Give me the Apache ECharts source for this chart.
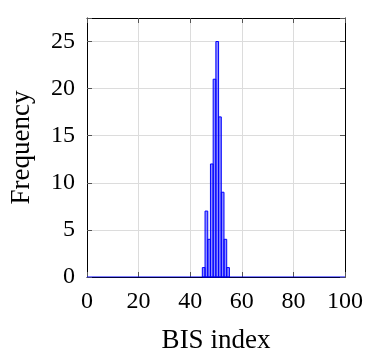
<!DOCTYPE html>
<html>
<head>
<meta charset="utf-8">
<script src="https://cdn.jsdelivr.net/npm/echarts@6/dist/echarts.min.js"></script>
<style>
  html, body { margin: 0; padding: 0; background: #fff; }
  #chart { width: 367px; height: 353px; }
</style>
</head>
<body>
<div id="chart"></div>
<script>
// histogram bins (BIS index)
const binStart = [44.7, 45.75, 46.8, 47.85, 48.9, 49.95, 51.0, 52.05, 53.1, 54.15];
const binEnd   = [45.75, 46.8, 47.85, 48.9, 49.95, 51.0, 52.05, 53.1, 54.15, 55.2];
const counts   = [1, 7, 4, 12, 21, 25, 17, 9, 4, 1];
const xTicks = [0, 20, 40, 60, 80, 100];
const yTicks = [0, 5, 10, 15, 20, 25];

const font = "Liberation Serif";
const blue = "#0000ff";

const bars = binStart.map((s, i) => [s, binEnd[i], counts[i]]);

const tickOnly = {
  axisLine: { show: true, onZero: false, lineStyle: { color: "#000", width: 1 } },
  axisTick: { show: true, inside: true, length: 5, lineStyle: { color: "#555" } },
  axisLabel: { show: false },
  splitLine: { show: false }
};

const chart = echarts.init(document.getElementById("chart"));
chart.setOption({
  animation: false,
  grid: { left: 87, right: 22, top: 18, bottom: 76, outerBoundsMode: "none", containLabel: false },
  xAxis: [
    {
      type: "value", min: 0, max: 100, interval: 20,
      name: "BIS index", nameLocation: "middle", nameGap: 50,
      nameTextStyle: { fontFamily: font, fontSize: 27, color: "#000" },
      axisLine: { show: true, onZero: false, lineStyle: { color: "#000" } },
      axisTick: { show: true, inside: true, length: 5, lineStyle: { color: "#555" } },
      axisLabel: { fontFamily: font, fontSize: 24, color: "#000", margin: 13 },
      splitLine: { show: true, lineStyle: { color: "#dcdcdc" } }
    },
    Object.assign({ type: "value", min: 0, max: 100, interval: 20, position: "top" }, tickOnly)
  ],
  yAxis: [
    {
      type: "value", min: 0, max: 27.5, interval: 5,
      name: "Frequency", nameLocation: "middle", nameGap: 52,
      nameTextStyle: { fontFamily: font, fontSize: 27, color: "#000" },
      axisLine: { show: true, onZero: false, lineStyle: { color: "#000" } },
      axisTick: { show: true, inside: true, length: 5, lineStyle: { color: "#555" } },
      axisLabel: {
        fontFamily: font, fontSize: 24, color: "#000", margin: 12,
        formatter: v => (yTicks.indexOf(v) >= 0 ? String(v) : "")
      },
      splitLine: { show: true, lineStyle: { color: "#dcdcdc" } }
    },
    Object.assign({ type: "value", min: 0, max: 27.5, interval: 5, position: "right" }, tickOnly)
  ],
  series: [
    {
      type: "custom",
      data: bars,
      encode: { x: [0, 1], y: 2 },
      renderItem: (params, api) => {
        const p0 = api.coord([api.value(0), 0]);
        const p1 = api.coord([api.value(1), api.value(2)]);
        return {
          type: "rect",
          shape: { x: p0[0], y: p1[1], width: p1[0] - p0[0], height: p0[1] - p1[1] },
          style: { fill: "rgba(0,0,255,0.45)", stroke: blue, lineWidth: 1 }
        };
      }
    },
    {
      type: "line",
      data: [[xTicks[0], 0], [xTicks[xTicks.length - 1], 0]],
      symbol: "none",
      lineStyle: { color: blue, width: 1.2 },
      z: 5
    }
  ]
});
</script>
</body>
</html>
